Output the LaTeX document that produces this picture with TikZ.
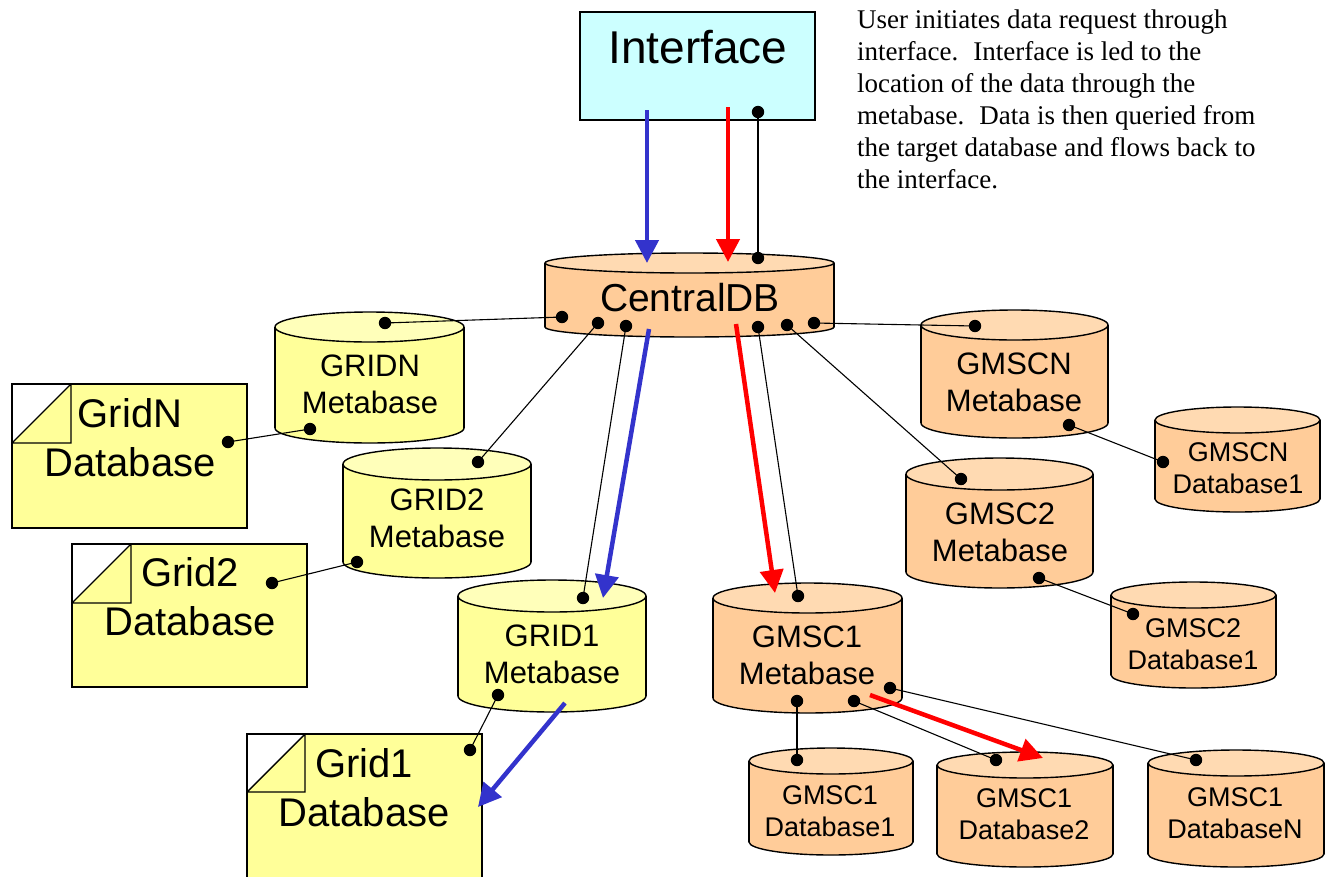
\documentclass[tikz,border=0pt]{standalone}
\usepackage{fontspec}
\setmainfont{Liberation Serif}
\newfontfamily\arial{Liberation Sans}
\usetikzlibrary{arrows.meta}

\definecolor{peach}{HTML}{FFCC99}
\definecolor{peachtop}{HTML}{FFDAB2}
\definecolor{paleyellow}{HTML}{FFFF99}
\definecolor{paleyellowtop}{HTML}{FFFFBA}
\definecolor{ifacecyan}{HTML}{CCFFFF}
\definecolor{flowblue}{HTML}{3333CC}
\definecolor{flowred}{HTML}{FF0000}

\tikzset{
  outline/.style={draw=black, line width=1.4pt},
  wire/.style={draw=black, line width=1.1pt},
  dotmark/.style={fill=black},
  lbl/.style={font=\arial, align=center, inner sep=0pt, text=black},
  metafont/.style={lbl, font=\arial\fontsize{31}{37}\selectfont},
  dbfont/.style={lbl, font=\arial\fontsize{27}{32}\selectfont},
  gridfont/.style={lbl, font=\arial\fontsize{40}{49}\selectfont},
  blueflow/.style={draw=flowblue, line width=4.5pt, -{Triangle[length=23pt,width=23pt]}},
  redflow/.style={draw=flowred, line width=4.5pt, -{Triangle[length=23pt,width=23pt]}},
}

% cylinder: centre x, top y, bottom y, half width, y radius, body colour, top colour
\newcommand\dbcyl[7]{%
  \fill[#6] (#1-#4,#2) rectangle (#1+#4,#3);
  \fill[#6] (#1,#3) ellipse [x radius=#4, y radius=#5];
  \begin{scope}
    \clip (#1-#4-3,#3) rectangle (#1+#4+3,#3+#5+3);
    \draw[outline] (#1,#3) ellipse [x radius=#4, y radius=#5];
  \end{scope}
  \draw[outline] (#1-#4,#2) -- (#1-#4,#3) (#1+#4,#2) -- (#1+#4,#3);
  \filldraw[outline, fill=#7] (#1,#2) ellipse [x radius=#4, y radius=#5];
}

% database sheet with a folded corner: x1, y1, x2, y2, fold size
\newcommand\gridsheet[5]{%
  \fill[paleyellow] (#1,#2) rectangle (#3,#4);
  \fill[white] (#1,#2) -- (#1+#5,#2) -- (#1,#2+#5) -- cycle;
  \draw[outline] (#1,#2+#5) -- (#1+#5,#2+#5) -- (#1+#5,#2)
                 (#1,#2+#5) -- (#1+#5,#2);
  \draw[outline] (#1,#2) rectangle (#3,#4);
}

\begin{document}
\begin{tikzpicture}[x=1pt, y=-1pt]
\useasboundingbox (0,0) rectangle (1334,876);

% ---------- shapes ----------
\filldraw[outline, fill=ifacecyan] (580,12) rectangle (815,120);
\node[lbl, font=\arial\fontsize{46}{55}\selectfont] (iface) at (698,47) {Interface};

\dbcyl{689.5}{263}{327}{144.5}{10}{peach}{peachtop}
\node[lbl, font=\arial\fontsize{39}{47}\selectfont] (central) at (690,298) {CentralDB};

% grid side
\dbcyl{369.5}{327}{428}{94.5}{15}{paleyellow}{paleyellowtop}
\node[metafont] (gridnmeta) at (370,384) {GRIDN\\Metabase};
\dbcyl{437}{464}{562}{94}{16}{paleyellow}{paleyellowtop}
\node[metafont] (grid2meta) at (437,518) {GRID2\\Metabase};
\dbcyl{552}{596}{696}{94}{16}{paleyellow}{paleyellowtop}
\node[metafont] (grid1meta) at (552,654) {GRID1\\Metabase};

\gridsheet{12}{384}{247}{528}{59}
\node[gridfont] (gridndb) at (130,438) {GridN\\Database};
\gridsheet{72}{544}{307}{687}{59}
\node[gridfont] (grid2db) at (190,597) {Grid2\\Database};
\gridsheet{247}{734}{482}{895}{58}
\node[gridfont] (grid1db) at (364,788) {Grid1\\Database};

% GMSC side
\dbcyl{1014.5}{325}{423}{93.5}{15}{peach}{peachtop}
\node[metafont] (gmscnmeta) at (1014,382) {GMSCN\\Metabase};
\dbcyl{999.5}{474}{572}{93.5}{16}{peach}{peachtop}
\node[metafont] (gmsc2meta) at (1000,532) {GMSC2\\Metabase};
\dbcyl{807.5}{598}{698}{94.5}{15}{peach}{peachtop}
\node[metafont] (gmsc1meta) at (807,655) {GMSC1\\Metabase};

\dbcyl{1237.5}{420}{499}{82.5}{13}{peach}{peachtop}
\node[dbfont] (gmscndb) at (1238,468) {GMSCN\\Database1};
\dbcyl{1193.5}{595}{675}{82.5}{13}{peach}{peachtop}
\node[dbfont] (gmsc2db) at (1193,644) {GMSC2\\Database1};
\dbcyl{831}{761}{842}{82}{13}{peach}{peachtop}
\node[dbfont] (gmsc1dba) at (830,811) {GMSC1\\Database1};
\dbcyl{1025}{765}{854}{88}{13}{peach}{peachtop}
\node[dbfont] (gmsc1dbb) at (1024,814) {GMSC1\\Database2};
\dbcyl{1236}{763}{854}{88}{13}{peach}{peachtop}
\node[dbfont] (gmsc1dbn) at (1235,813) {GMSC1\\DatabaseN};

% ---------- connection points ----------
\coordinate (ifdot) at (758,112);
\coordinate (cdtop) at (758,258);
\coordinate (cda) at (562,317);
\coordinate (cdb) at (598,323);
\coordinate (cdc) at (626,326);
\coordinate (cdd) at (758,327);
\coordinate (cde) at (787,325);
\coordinate (cdf) at (814,323);
\coordinate (gna) at (385,323);
\coordinate (gnb) at (310,429);
\coordinate (gnd) at (228,442);
\coordinate (g2a) at (478,462);
\coordinate (g2b) at (357,562);
\coordinate (g2d) at (272,583);
\coordinate (g1a) at (583,598);
\coordinate (g1b) at (498,695);
\coordinate (g1d) at (470,750);
\coordinate (mna) at (975,326);
\coordinate (mnb) at (1069,425);
\coordinate (mnd) at (1163,462);
\coordinate (m2a) at (961,479);
\coordinate (m2b) at (1039,578);
\coordinate (m2d) at (1133,614);
\coordinate (m1a) at (798,596);
\coordinate (m1b) at (797,701);
\coordinate (m1c) at (854,701);
\coordinate (m1e) at (890,688);
\coordinate (d1) at (797,760);
\coordinate (d2) at (996,760);
\coordinate (dn) at (1196,760);

% ---------- links ----------
\draw[wire] (ifdot) -- (cdtop);
\draw[wire] (cda) -- (gna);
\draw[wire] (cdb) -- (g2a);
\draw[wire] (cdc) -- (g1a);
\draw[wire] (cdd) -- (m1a);
\draw[wire] (cde) -- (m2a);
\draw[wire] (cdf) -- (mna);
\draw[wire] (gnb) -- (gnd);
\draw[wire] (g2b) -- (g2d);
\draw[wire] (g1b) -- (g1d);
\draw[wire] (mnb) -- (mnd);
\draw[wire] (m2b) -- (m2d);
\draw[wire] (m1b) -- (d1);
\draw[wire] (m1c) -- (d2);
\draw[wire] (m1e) -- (dn);

\foreach \p in {ifdot,cdtop,cda,cdb,cdc,cdd,cde,cdf,gna,gnb,gnd,g2a,g2b,g2d,
                g1a,g1b,g1d,mna,mnb,mnd,m2a,m2b,m2d,m1a,m1b,m1c,m1e,d1,d2,dn}
  \fill[dotmark] (\p) circle [radius=6.2];

% ---------- request / data flow ----------
\coordinate (bluea) at (647,110);
\coordinate (blueb) at (647,263);
\coordinate (bluec) at (649,329);
\coordinate (blued) at (603,598);
\coordinate (bluee) at (565,703);
\coordinate (bluef) at (478,807);
\coordinate (reda) at (728,107);
\coordinate (redb) at (728,262);
\coordinate (redc) at (736,324);
\coordinate (redd) at (775,593);
\coordinate (rede) at (870,695);
\coordinate (redf) at (1043,758);

\draw[blueflow] (bluea) -- (blueb);
\draw[blueflow] (bluec) -- (blued);
\draw[blueflow] (bluee) -- (bluef);
\draw[redflow] (reda) -- (redb);
\draw[redflow] (redc) -- (redd);
\draw[redflow] (rede) -- (redf);

% ---------- description ----------
\node[anchor=north west, inner sep=0pt, align=left,
      font=\fontsize{27}{32}\selectfont] (note) at (857,10)
  {User initiates data request through\\
   interface.\hspace{15pt}Interface is led to the\\
   location of the data through the\\
   metabase.\hspace{15pt}Data is then queried from\\
   the target database and flows back to\\
   the interface.};
\end{tikzpicture}
\end{document}
